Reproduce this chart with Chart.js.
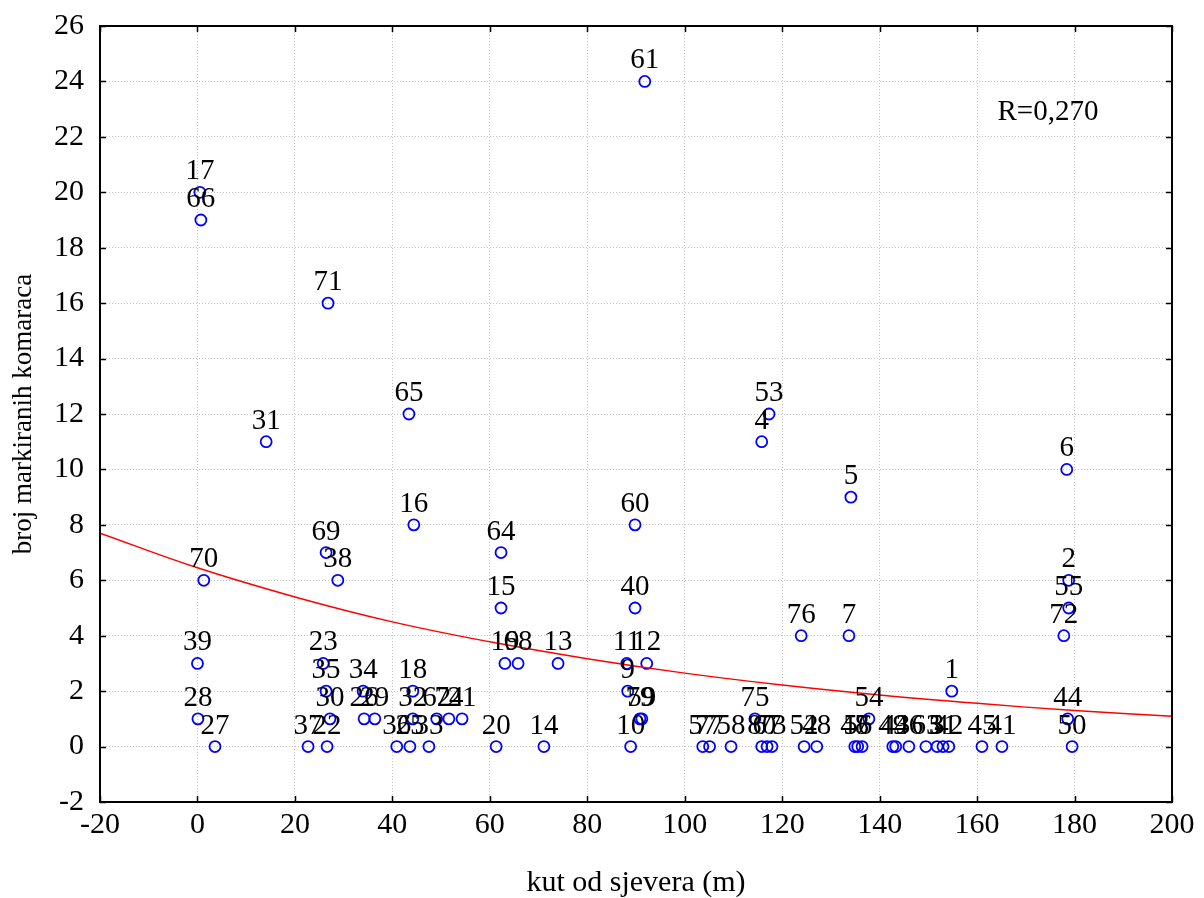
<!DOCTYPE html>
<html>
<head>
<meta charset="utf-8">
<title>broj markiranih komaraca</title>
<script src="https://cdn.jsdelivr.net/npm/chart.js@4/dist/chart.umd.min.js"></script>
<style>
    html, body { margin: 0; padding: 0; background: #fff; }
    canvas { display: block; }
</style>
</head>
<body>
<canvas id="chart" width="1204" height="898"></canvas>
<script>
// point labels, angle from north and number of marked mosquitoes
const pointLabels = [
    '61', '17', '66', '71', '31', '65', '53', '4', '6', '5', '16', '60',
    '69', '64', '70', '38', '2', '55', '72', '15', '40', '76', '7',
    '39', '23', '19', '68', '13', '11', '12',
    '35', '34', '18', '9', '1',
    '28', '30', '26', '29', '32', '62', '74', '21', '79', '59', '75', '54', '44',
    '27', '37', '22', '36', '25', '33', '20', '14', '10', '57', '77', '58', '80',
    '67', '73', '52', '48', '47', '56', '8', '49', '43', '46', '63', '3', '51',
    '42', '45', '41', '50'
];
const angleValues = [
    91.8, 0.5, 0.7, 26.8, 14.1, 43.4, 117.3, 115.8, 178.4, 134.1, 44.4, 89.8,
    26.4, 62.3, 1.3, 28.8, 178.8, 178.8, 177.8, 62.3, 89.8, 123.9, 133.7,
    0, 25.8, 63.1, 65.8, 74.0, 88.1, 92.2,
    26.4, 34.0, 44.2, 88.3, 154.8,
    0.1, 27.2, 34.2, 36.4, 44.2, 49.1, 51.6, 54.3, 90.8, 91.2, 114.4, 137.8, 178.6,
    3.6, 22.7, 26.6, 40.9, 43.6, 47.5, 61.3, 71.1, 88.9, 103.7, 105.1, 109.5, 115.8,
    116.9, 117.9, 124.5, 127.1, 134.9, 135.5, 136.4, 142.7, 143.3, 146.0, 149.5, 151.8, 153.0,
    154.2, 161.0, 165.1, 179.5
];
const countValues = [
    24, 20, 19, 16, 11, 12, 12, 11, 10, 9, 8, 8,
    7, 7, 6, 6, 6, 5, 4, 5, 5, 4, 4,
    3, 3, 3, 3, 3, 3, 3,
    2, 2, 2, 2, 2,
    1, 1, 1, 1, 1, 1, 1, 1, 1, 1, 1, 1, 1,
    0, 0, 0, 0, 0, 0, 0, 0, 0, 0, 0, 0, 0,
    0, 0, 0, 0, 0, 0, 0, 0, 0, 0, 0, 0, 0,
    0, 0, 0, 0
];

// fitted curve
const curveX = [-20, 0, 20, 40, 60, 80, 100, 120, 140, 160, 180, 200];
const curveY = [7.7, 6.45, 5.4, 4.5, 3.78, 3.17, 2.65, 2.22, 1.86, 1.56, 1.3, 1.09];

const rText = 'R=0,270';

const FONT = 'Liberation Serif, Times New Roman, serif';

const scatterPoints = angleValues.map((x, i) => ({ x: x, y: countValues[i] }));
const curvePoints = curveX.map((x, i) => ({ x: x, y: curveY[i] }));

// labels above points, frame, inward ticks and the R text
const decorPlugin = {
    id: 'decor',
    afterDatasetsDraw(chart) {
        const ctx = chart.ctx;
        const area = chart.chartArea;
        const xs = chart.scales.x;
        const ys = chart.scales.y;

        ctx.save();
        ctx.fillStyle = '#000';
        ctx.font = '29px ' + FONT;
        ctx.textAlign = 'center';
        ctx.textBaseline = 'alphabetic';
        const meta = chart.getDatasetMeta(1);
        meta.data.forEach((el, i) => {
            ctx.fillText(pointLabels[i], el.x, el.y - 13);
        });

        ctx.fillText(rText, area.right - 124, area.top + 94);

        // inward ticks
        ctx.strokeStyle = '#000';
        ctx.lineWidth = 1.5;
        ctx.beginPath();
        ys.ticks.forEach(t => {
            const py = Math.round(ys.getPixelForValue(t.value)) + 0.5;
            ctx.moveTo(area.left, py); ctx.lineTo(area.left + 6, py);
            ctx.moveTo(area.right, py); ctx.lineTo(area.right - 6, py);
        });
        xs.ticks.forEach(t => {
            const px = Math.round(xs.getPixelForValue(t.value)) + 0.5;
            ctx.moveTo(px, area.bottom); ctx.lineTo(px, area.bottom - 6);
            ctx.moveTo(px, area.top); ctx.lineTo(px, area.top + 6);
        });
        ctx.stroke();

        ctx.lineWidth = 2;
        ctx.strokeRect(area.left, area.top, area.right - area.left, area.bottom - area.top);
        ctx.restore();
    }
};

const chart = new Chart(document.getElementById('chart'), {
    type: 'scatter',
    data: {
        datasets: [{
            type: 'line',
            data: curvePoints,
            borderColor: '#ff0000',
            borderWidth: 1.5,
            pointRadius: 0,
            tension: 0.4,
            fill: false
        }, {
            data: scatterPoints,
            pointStyle: 'circle',
            pointRadius: 5.5,
            pointBorderColor: '#0000ff',
            pointBackgroundColor: 'rgba(255,255,255,0)',
            pointBorderWidth: 1.8
        }]
    },
    options: {
        responsive: false,
        animation: false,
        layout: { padding: { top: 26, right: 32, left: 0, bottom: 0 } },
        plugins: {
            legend: { display: false },
            tooltip: { enabled: false }
        },
        scales: {
            x: {
                type: 'linear',
                min: -20,
                max: 200,
                afterFit(scale) { scale.height = 96; },
                ticks: {
                    stepSize: 20,
                    padding: 5,
                    color: '#000',
                    font: { family: FONT, size: 30 },
                    maxRotation: 0
                },
                grid: { color: '#c4c4c4', lineWidth: 1, drawTicks: false },
                border: { display: false, dash: [1, 2] },
                title: {
                    display: true,
                    text: 'kut od sjevera (m)',
                    color: '#000',
                    font: { family: FONT, size: 30 },
                    padding: { top: 0, bottom: -3 }
                }
            },
            y: {
                type: 'linear',
                min: -2,
                max: 26,
                afterFit(scale) {
                    scale.width = 100;
                    scale.paddingTop = 0;
                    scale.paddingBottom = 0;
                },
                ticks: {
                    stepSize: 2,
                    padding: 16,
                    color: '#000',
                    font: { family: FONT, size: 30 }
                },
                grid: { color: '#c4c4c4', lineWidth: 1, drawTicks: false },
                border: { display: false, dash: [1, 2] },
                title: {
                    display: true,
                    text: 'broj markiranih komaraca',
                    color: '#000',
                    font: { family: FONT, size: 27 },
                    padding: { top: 8, bottom: 0 }
                }
            }
        }
    },
    plugins: [decorPlugin]
});
</script>
</body>
</html>
